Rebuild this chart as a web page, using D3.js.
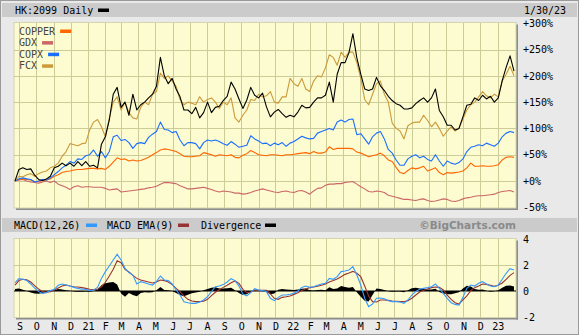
<!DOCTYPE html>
<html>
<head>
<meta charset="utf-8">
<script src="https://cdn.jsdelivr.net/npm/d3@7"></script>
<style>
  html, body { margin: 0; padding: 0; background: #e9e9e9; }
  svg { display: block; }
</style>
</head>
<body>
<svg id="chart" width="579" height="335"></svg>
<script>
// Weekly closes, % change since the first week (Aug 24 2020 .. Jan 30 2023)
const hk2099 = [0,22,25,22,23,11,3,1,4,9,25,28,34,29,34,28,37,29,37,28,30,25,70,84,116,165,178,140,150,125,165,135,145,150,158,165,180,235,200,185,195,175,160,135,135,128,140,120,130,150,130,140,142,153,161,188,175,156,138,154,178,163,158,167,141,122,131,136,128,121,125,122,131,144,139,140,150,158,158,163,188,150,203,225,225,244,280,234,203,175,172,175,197,181,172,161,153,147,144,137,137,139,147,153,158,150,158,175,134,122,106,106,97,100,122,144,146,158,153,163,156,161,150,158,191,216,238,209];
const copper = [0,3,4,3,2,-1,-1,1,2,4,9,12,16,18,19,21,22,22,23,24,24,23,24,22,28,36,44,41,42,38,40,38,39,42,45,50,54,59,61,60,58,56,52,47,46,46,47,48,54,52,50,47,50,49,48,50,45,44,49,52,58,54,50,49,48,50,50,49,48,50,50,51,52,53,54,52,56,53,53,55,65,60,62,62,62,62,61,55,53,50,46,48,50,53,48,40,37,26,16,14,20,25,23,25,28,19,22,25,16,12,16,15,16,17,19,25,34,28,28,29,28,28,29,31,40,45,46,45];
const gdx = [0,2,3,0,-2,-3,-4,-2,0,-3,0,-6,-9,-12,-16,-11,-9,-12,-11,-11,-12,-12,-12,-14,-17,-16,-15,-21,-20,-19,-18,-17,-16,-15,-13,-12,-10,-6,-3,-3,-4,-5,-9,-12,-15,-15,-14,-13,-12,-14,-16,-19,-21,-19,-20,-21,-23,-23,-25,-24,-22,-19,-17,-15,-17,-19,-21,-22,-20,-19,-21,-22,-19,-18,-21,-25,-19,-14,-13,-8,-6,-6,-5,-5,-3,-2,-1,-6,-11,-15,-20,-21,-19,-20,-22,-27,-29,-31,-33,-35,-35,-36,-37,-35,-34,-37,-39,-38,-36,-34,-35,-38,-39,-37,-34,-32,-31,-29,-28,-28,-27,-26,-25,-22,-20,-19,-18,-21];
const copx = [0,4,6,4,3,-2,0,3,2,6,12,18,25,30,37,34,42,41,48,50,59,47,56,44,56,84,87,77,79,73,62,71,73,71,83,89,94,112,98,97,92,94,78,67,73,73,71,61,73,78,76,78,75,71,68,75,70,64,66,68,86,80,76,71,72,67,72,69,73,66,72,75,80,85,82,80,81,91,94,97,100,97,112,116,112,117,118,88,90,80,70,84,91,94,80,60,53,40,30,30,42,47,50,44,47,41,38,50,38,28,38,34,32,35,42,56,64,66,69,67,72,69,66,72,84,91,94,92];
const fcx = [0,9,8,12,14,9,14,17,19,25,28,34,47,56,71,69,67,71,72,97,112,117,103,84,119,150,160,135,150,130,120,118,140,150,145,165,170,205,195,200,190,180,155,145,150,148,145,160,150,155,158,150,138,150,145,158,120,112,125,135,155,153,165,160,162,170,150,148,160,160,195,185,180,195,175,170,190,200,198,215,240,235,220,245,235,245,245,225,195,155,145,165,185,190,165,150,110,100,95,80,105,110,112,112,125,115,103,112,100,85,95,103,95,100,118,135,145,150,160,170,162,158,165,160,190,203,218,200];

// MACD(12,26) of HK:2099, its 9-period EMA, and the divergence histogram
const macd = [0.64,0.95,0.9,0.8,0.54,0.23,-0.05,-0.18,-0.13,0.03,0.13,0.44,0.54,0.46,0.38,0.28,0.2,0.13,0.13,0.03,0.08,0.28,0.97,1.49,1.92,2.38,2.82,2.38,1.74,1.41,1.23,0.54,0.72,0.64,0.54,0.46,0.72,1.15,0.85,0.8,0.54,0.08,-0.31,-0.82,-0.9,-0.95,-0.95,-0.85,-0.69,-0.44,-0.05,0.33,0.38,0.49,0.69,0.95,0.8,0.38,-0.23,-0.38,-0.13,0.18,0.08,0.03,-0.05,-0.56,-0.74,-0.49,-0.31,-0.31,-0.25,-0.18,0,0.28,0.38,0.28,0.33,0.44,0.54,0.59,0.97,0.9,1.1,1.49,1.54,1.62,1.87,1.23,0.46,-0.56,-1.2,-1.0,-0.56,-0.54,-0.59,-0.74,-0.82,-0.82,-0.85,-0.95,-0.69,-0.31,-0.03,0.13,0.2,0.26,0.33,0.54,0.2,-0.18,-0.56,-0.9,-1.03,-1.08,-0.49,0.2,0.46,0.38,0.59,0.72,0.54,0.38,0.33,0.46,0.9,1.36,1.72,1.62];
const macdEma = [0.46,0.8,0.9,0.87,0.69,0.41,0.15,-0.05,-0.1,-0.05,0.08,0.23,0.38,0.46,0.38,0.33,0.31,0.26,0.2,0.13,0.1,0.13,0.33,0.67,1.15,1.67,2.33,2.18,1.67,1.46,1.2,0.97,0.85,0.77,0.69,0.62,0.69,0.85,0.8,0.69,0.49,0.2,-0.05,-0.38,-0.64,-0.77,-0.82,-0.82,-0.79,-0.64,-0.36,-0.1,0.1,0.28,0.44,0.64,0.77,0.59,0.13,-0.13,-0.08,0.08,0.05,0.05,0.05,-0.23,-0.56,-0.64,-0.49,-0.44,-0.38,-0.26,-0.13,0.03,0.15,0.26,0.31,0.36,0.44,0.54,0.69,0.8,0.92,1.1,1.28,1.38,1.51,1.36,1.1,0.38,-0.38,-0.82,-0.85,-0.69,-0.69,-0.72,-0.77,-0.79,-0.82,-0.82,-0.74,-0.56,-0.31,-0.08,0.05,0.15,0.26,0.31,0.28,0.08,-0.31,-0.64,-0.9,-1.0,-0.69,-0.38,0.03,0.26,0.38,0.54,0.51,0.44,0.36,0.44,0.62,0.9,1.2,1.41];
const divergence = [0.15,0.2,0.1,0,-0.12,-0.2,-0.22,-0.15,-0.05,0.05,0.05,0.15,0.12,0.05,0.02,-0.03,-0.05,-0.05,-0.03,-0.05,0,0.1,0.45,0.6,0.65,0.7,0.5,-0.2,-0.45,-0.15,-0.3,-0.4,-0.15,-0.1,-0.12,-0.1,0.05,0.3,0.08,0.05,0,-0.15,-0.3,-0.4,-0.28,-0.18,-0.12,-0.05,0.05,0.15,0.25,0.28,0.2,0.2,0.22,0.25,0.05,-0.15,-0.3,-0.25,-0.05,0.08,0.03,-0.02,-0.08,-0.25,-0.2,0.1,0.15,0.12,0.1,0.08,0.12,0.18,0.2,0.05,0.03,0.08,0.1,0.06,0.28,0.15,0.2,0.38,0.3,0.25,0.3,-0.1,-0.45,-0.75,-0.8,-0.3,0.2,0.15,0.08,-0.02,-0.05,-0.03,-0.03,-0.1,0.05,0.22,0.25,0.2,0.15,0.12,0.12,0.18,-0.08,-0.2,-0.25,-0.25,-0.18,-0.1,0.2,0.4,0.35,0.15,0.1,0.12,0.02,-0.05,-0.02,0.05,0.25,0.4,0.42,0.35];

const monthLabels = ["S","O","N","D","21","F","M","A","M","J","J","A","S","O","N","D","22","F","M","A","M","J","J","A","S","O","N","D","23"];
const pctTicks = [300,250,200,150,100,50,0,-50];
const macdTicks = [4,2,0,-2];

const series = [
  { name: "GDX",    values: gdx,    color: "#cc6666" },
  { name: "COPPER", values: copper, color: "#ff6600" },
  { name: "COPX",   values: copx,   color: "#1a6eff" },
  { name: "FCX",    values: fcx,    color: "#cc9a3a" },
  { name: "HK:2099",values: hk2099, color: "#000000" }
];
const legendItems = [
  { name: "COPPER", color: "#ff6600" },
  { name: "GDX",    color: "#cc6666" },
  { name: "COPX",   color: "#1a6eff" },
  { name: "FCX",    color: "#cc9a3a" }
];

const FONT = "'DejaVu Sans Mono', monospace";
const startDate = new Date(2020, 7, 24);
const endDate = new Date(2023, 0, 30);
const dates = d3.timeDay.range(startDate, d3.timeDay.offset(endDate, 1), 7);
const monthDates = d3.timeMonth.range(new Date(2020, 8, 1), new Date(2023, 0, 2));

const svg = d3.select("#chart");
const W = 579, H = 335;
const plot = { left: 14, right: 516, top: 22.5, bottom: 208 };
const macdBox = { top: 238.5, bottom: 317.5 };

const x = d3.scaleTime().domain([startDate, endDate]).range([15, 514]);
const y = d3.scaleLinear().domain([-50, 300]).range([207.3, 23.2]);
const ym = d3.scaleLinear().domain([-2, 4]).range([317, 239]);

// frame
svg.append("rect").attr("x", 0.5).attr("y", 0.5).attr("width", W - 1).attr("height", H - 1)
  .attr("fill", "#e9e9e9").attr("stroke", "#9a9a9a");

// header bars
svg.append("rect").attr("x", 2).attr("y", 3).attr("width", W - 4).attr("height", 14).attr("fill", "#cbcbcb");
svg.append("rect").attr("x", 2).attr("y", 218).attr("width", W - 4).attr("height", 14).attr("fill", "#cbcbcb");

svg.append("text").attr("x", 15).attr("y", 10).attr("dy", "0.35em")
  .attr("font-family", FONT).attr("font-size", 10).attr("fill", "#000").text("HK:2099 Daily");
svg.append("rect").attr("x", 98).attr("y", 8.5).attr("width", 11).attr("height", 3.5).attr("fill", "#000");
svg.append("text").attr("x", 524).attr("y", 10).attr("dy", "0.35em")
  .attr("font-family", FONT).attr("font-size", 10).attr("fill", "#000").text("1/30/23");

// MACD header legend
const macdLegend = [
  { label: "MACD(12,26)", tx: 14, sx: 86, color: "#3399ff" },
  { label: "MACD EMA(9)", tx: 107, sx: 178, color: "#993333" },
  { label: "Divergence",  tx: 201, sx: 265, color: "#000000" }
];
macdLegend.forEach(d => {
  svg.append("text").attr("x", d.tx).attr("y", 225).attr("dy", "0.35em")
    .attr("font-family", FONT).attr("font-size", 10).attr("fill", "#000").text(d.label);
  svg.append("rect").attr("x", d.sx).attr("y", 223.5).attr("width", 11).attr("height", 3.5).attr("fill", d.color);
});
svg.append("text").attr("x", 516).attr("y", 225.5).attr("dy", "0.35em").attr("text-anchor", "end")
  .attr("font-family", "'DejaVu Sans', sans-serif").attr("font-weight", "bold").attr("font-size", 10.5)
  .attr("fill", "#8a8a8a").text("\u00A9BigCharts.com");

// panels
function panel(top, bottom) {
  svg.append("rect").attr("x", plot.right).attr("y", top + 2).attr("width", 2).attr("height", bottom - top)
    .attr("fill", "#8c8c8c");
  svg.append("rect").attr("x", plot.left + 2).attr("y", bottom).attr("width", plot.right - plot.left).attr("height", 2)
    .attr("fill", "#8c8c8c");
  svg.append("rect").attr("x", plot.left).attr("y", top).attr("width", plot.right - plot.left).attr("height", bottom - top)
    .attr("fill", "#fcfcd0").attr("stroke", "#d4d4b0").attr("stroke-width", 1);
}
panel(plot.top, plot.bottom);
panel(macdBox.top, macdBox.bottom);

const grid = svg.append("g").attr("stroke", "#cccc99").attr("stroke-width", 1).attr("shape-rendering", "crispEdges");
monthDates.forEach(d => {
  const gx = Math.round(x(d)) + 0.5;
  grid.append("line").attr("x1", gx).attr("x2", gx).attr("y1", plot.top).attr("y2", plot.bottom);
  grid.append("line").attr("x1", gx).attr("x2", gx).attr("y1", macdBox.top).attr("y2", macdBox.bottom);
});
pctTicks.filter(v => v < 300 && v > -50).forEach(v => {
  const gy = Math.round(y(v)) + 0.5;
  grid.append("line").attr("x1", plot.left).attr("x2", plot.right).attr("y1", gy).attr("y2", gy);
});
[2].forEach(v => {
  const gy = Math.round(ym(v)) + 0.5;
  grid.append("line").attr("x1", plot.left).attr("x2", plot.right).attr("y1", gy).attr("y2", gy);
});

// price comparison lines
svg.append("clipPath").attr("id", "clipMain").append("rect")
  .attr("x", plot.left).attr("y", plot.top).attr("width", plot.right - plot.left).attr("height", plot.bottom - plot.top);
const lineMain = d3.line().x((d, i) => x(dates[i])).y(d => y(d));
const gMain = svg.append("g").attr("clip-path", "url(#clipMain)");
series.forEach(s => {
  gMain.append("path").datum(s.values).attr("d", lineMain)
    .attr("fill", "none").attr("stroke", s.color).attr("stroke-width", 1.1).attr("stroke-linejoin", "round");
});

// legend inside the price panel
legendItems.forEach((d, i) => {
  const ty = 31 + i * 11.6;
  const t = svg.append("text").attr("x", 19).attr("y", ty).attr("dy", "0.35em")
    .attr("font-family", FONT).attr("font-size", 10).attr("fill", "#444").text(d.name);
  const tw = t.node().getComputedTextLength();
  svg.append("rect").attr("x", 19 + tw + 5).attr("y", ty - 1.5).attr("width", 11).attr("height", 3.5).attr("fill", d.color);
});

// MACD panel
const gM = svg.append("g");
gM.append("path").datum(divergence)
  .attr("d", d3.area().x((d, i) => x(dates[i])).y0(ym(0)).y1(d => ym(d)))
  .attr("fill", "#000");
gM.append("line").attr("x1", plot.left).attr("x2", plot.right).attr("y1", ym(0)).attr("y2", ym(0))
  .attr("stroke", "#000").attr("stroke-width", 1.2);
const lineM = d3.line().x((d, i) => x(dates[i])).y(d => ym(d));
gM.append("path").datum(macdEma).attr("d", lineM).attr("fill", "none").attr("stroke", "#993333").attr("stroke-width", 1.1);
gM.append("path").datum(macd).attr("d", lineM).attr("fill", "none").attr("stroke", "#3399ff").attr("stroke-width", 1.1);

// axes
const fmtPct = d => (d >= 0 ? "+" : "") + d + "%";
const yAxis = svg.append("g").attr("transform", `translate(${plot.right},0)`)
  .call(d3.axisRight(y).tickValues(pctTicks).tickFormat(fmtPct).tickSize(0).tickPadding(7));
const mAxis = svg.append("g").attr("transform", `translate(${plot.right},0)`)
  .call(d3.axisRight(ym).tickValues(macdTicks).tickFormat(d => d).tickSize(0).tickPadding(7));
const xAxis = svg.append("g").attr("transform", `translate(0,${macdBox.bottom})`)
  .call(d3.axisBottom(x).tickValues(monthDates).tickFormat((d, i) => monthLabels[i]).tickSize(0).tickPadding(5));
[yAxis, mAxis, xAxis].forEach(g => {
  g.select(".domain").remove();
  g.selectAll("text").attr("font-family", FONT).attr("font-size", 10).attr("fill", "#000");
});
</script>
</body>
</html>
